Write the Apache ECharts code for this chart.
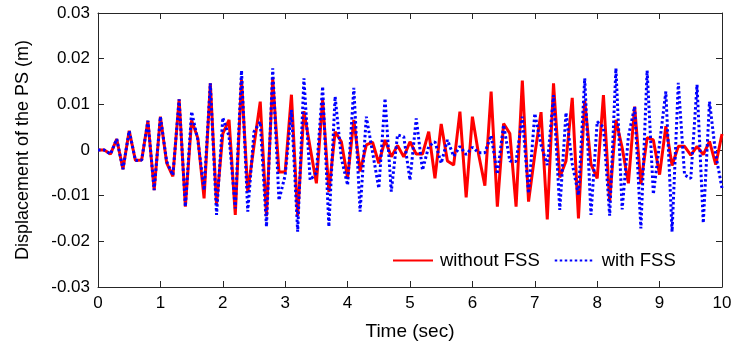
<!DOCTYPE html>
<html>
<head>
<meta charset="utf-8">
<script src="https://cdn.jsdelivr.net/npm/echarts@6/dist/echarts.min.js"></script>
<style>
html,body{margin:0;padding:0;background:#fff;}
#chart{width:736px;height:351px;}
</style>
</head>
<body>
<div id="chart"></div>
<script>
const timeSec = [0,0.1,0.2,0.3,0.4,0.5,0.6,0.7,0.8,0.9,1,1.1,1.2,1.3,1.4,1.5,1.6,1.7,1.8,1.9,2,2.1,2.2,2.3,2.4,2.5,2.6,2.7,2.8,2.9,3,3.1,3.2,3.3,3.4,3.5,3.6,3.7,3.8,3.9,4,4.1,4.2,4.3,4.4,4.5,4.6,4.7,4.8,4.9,5,5.1,5.2,5.3,5.4,5.5,5.6,5.7,5.8,5.9,6,6.1,6.2,6.3,6.4,6.5,6.6,6.7,6.8,6.9,7,7.1,7.2,7.3,7.4,7.5,7.6,7.7,7.8,7.9,8,8.1,8.2,8.3,8.4,8.5,8.6,8.7,8.8,8.9,9,9.1,9.2,9.3,9.4,9.5,9.6,9.7,9.8,9.9,10];

const withoutFSS = [0,0,-0.0009,0.0024,-0.0042,0.0042,-0.0023,-0.0022,0.0064,-0.0088,
0.0073,-0.0028,-0.0058,0.0111,-0.0124,0.0065,0.0026,-0.0106,0.0146,-0.012,
0.0036,0.0066,-0.0142,0.0155,-0.0092,0.001,0.0106,-0.0145,0.0157,-0.0048,
-0.0048,0.0121,-0.0145,0.0085,0.0005,-0.0073,0.011,-0.0092,0.004,0.0018,
-0.0062,0.0066,-0.0047,0.0011,0.0017,-0.0029,0.0022,-0.0015,0.001,-0.0015,
0.0018,-0.0009,-0.0009,0.004,-0.0062,0.0057,-0.0024,-0.0033,0.0084,-0.0104,
0.0073,-0.001,-0.0078,0.0128,-0.0124,0.0058,0.0036,-0.0124,0.0152,-0.0113,
-0.001,0.0083,-0.0152,0.0146,-0.006,-0.0024,0.0114,-0.015,0.0108,-0.0031,
-0.0062,0.012,-0.0113,0.0066,0.0005,-0.0073,0.0095,-0.0075,0.0027,0.0022,
-0.0054,0.0052,-0.0034,0.0008,0.0008,-0.0011,0.0008,-0.001,0.0019,-0.0032,
0.0035];

const withFSS = [0,0,-0.0009,0.0024,-0.0042,0.0042,-0.0023,-0.0022,0.0064,-0.0088,
0.0073,-0.0025,-0.0055,0.0111,-0.0124,0.0084,0.0022,-0.0088,0.0146,-0.0142,
0.0071,0.003,-0.0128,0.0174,-0.0135,0.004,0.0062,-0.0168,0.0179,-0.011,
-0.0055,0.0088,-0.0179,0.0157,-0.0066,-0.005,0.0139,-0.0168,0.0117,-0.0018,
-0.0077,0.0136,-0.0135,0.0073,-0.0005,-0.0084,0.0113,-0.0091,0.0033,0.0029,
-0.0066,0.0069,-0.0044,0.0008,0.0018,-0.0029,0.0022,-0.0014,0.0008,-0.001,
0.0006,-0.0006,-0.0006,0.0032,-0.0053,0.0055,-0.0024,-0.0025,0.0073,-0.0095,
0.008,0.0011,-0.0033,0.012,-0.0131,0.0082,-0.003,-0.0099,0.0157,-0.0142,
0.0062,0.005,-0.0144,0.0179,-0.013,0.003,0.0095,-0.0172,0.0174,-0.0097,
0.0015,0.0128,-0.0179,0.0147,-0.0055,-0.0062,0.0143,-0.016,0.0106,-0.001,
-0.0084];

const seriesNames = ['without FSS', 'with FSS'];
const xTitle = 'Time (sec)';
const yTitle = 'Displacement of the PS (m)';

const axisColor = '#262626';
const font = 'Liberation Sans, Arial, sans-serif';

function pairs(ys){ return timeSec.map((t,i)=>[t, ys[i]]); }

const chart = echarts.init(document.getElementById('chart'), null, {renderer:'canvas'});
const axisCommon = {
  axisLine:{show:true, onZero:false, lineStyle:{color:axisColor, width:1}},
  axisTick:{show:true, inside:true, length:6, lineStyle:{color:axisColor, width:1}},
  splitLine:{show:false}
};
chart.setOption({
  animation:false,
  backgroundColor:'#ffffff',
  grid:{left:98, right:14, top:13, bottom:64, containLabel:false},
  legend:{
    left:392, top:251, padding:0, itemWidth:40, itemHeight:14, itemGap:14,
    data:seriesNames,
    itemStyle:{opacity:0},
    textStyle:{fontFamily:font, fontSize:18.5, color:'#000', padding:[0,0,0,2]},
    backgroundColor:'rgba(255,255,255,0)'
  },
  xAxis:[
    Object.assign({type:'value', min:0, max:10, interval:1, position:'bottom',
      name:xTitle, nameLocation:'middle', nameGap:35,
      nameTextStyle:{fontFamily:font, fontSize:19, color:'#000'},
      axisLabel:{fontFamily:font, fontSize:17, color:'#000', margin:8}}, axisCommon),
    Object.assign({type:'value', min:0, max:10, interval:1, position:'top',
      axisLabel:{show:false}}, axisCommon)
  ],
  yAxis:[
    Object.assign({type:'value', min:-0.03, max:0.03, interval:0.01, position:'left',
      name:yTitle, nameLocation:'middle', nameGap:66,
      nameTextStyle:{fontFamily:font, fontSize:18, color:'#000'},
      axisLabel:{fontFamily:font, fontSize:17, color:'#000', margin:8,
        formatter:v=>{const r=Math.round(v*100)/100; return r===0?'0':String(r);}}}, axisCommon),
    Object.assign({type:'value', min:-0.03, max:0.03, interval:0.01, position:'right',
      axisLabel:{show:false}}, axisCommon)
  ],
  series:[
    {name:seriesNames[0], type:'line', data:pairs(withoutFSS), showSymbol:false, symbol:'none',
     lineStyle:{color:'#ff0000', width:3}, itemStyle:{color:'#ff0000'}},
    {name:seriesNames[1], type:'line', data:pairs(withFSS), showSymbol:false, symbol:'none',
     lineStyle:{color:'#0000ff', width:3, type:[2.5,2.5]}, itemStyle:{color:'#0000ff'}}
  ]
});
</script>
</body>
</html>
